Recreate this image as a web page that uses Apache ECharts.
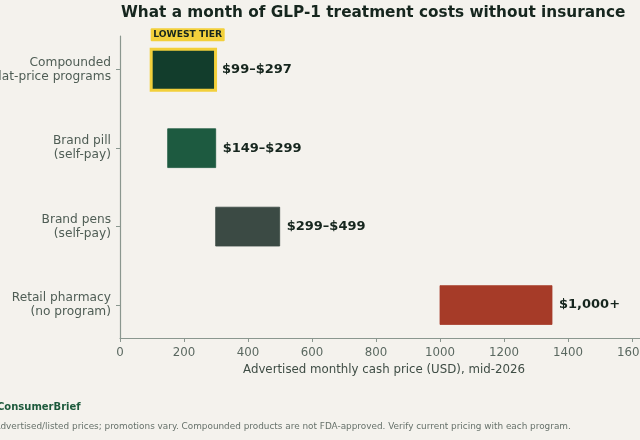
<!DOCTYPE html>
<html>
<head>
<meta charset="utf-8">
<script src="https://cdn.jsdelivr.net/npm/echarts@6/dist/echarts.min.js"></script>
<style>
html,body{margin:0;padding:0;background:#f4f2ed;}
#c{width:640px;height:440px;}
</style>
</head>
<body>
<div id="c"></div>
<script>
const categories = ["Compounded\nflat-price programs", "Brand pill\n(self-pay)", "Brand pens\n(self-pay)", "Retail pharmacy\n(no program)"];
const lowPrices = [99, 149, 299, 1000];
const highPrices = [297, 299, 499, 1350];
const valueLabels = ["$99\u2013$297", "$149\u2013$299", "$299\u2013$499", "$1,000+"];
const barColors = ["#123d2c", "#1d5a40", "#3b4a44", "#a63b28"];
const xTicks = [0, 200, 400, 600, 800, 1000, 1200, 1400, 1600];

const FONT = "'DejaVu Sans', sans-serif";
const chart = echarts.init(document.getElementById('c'), null, {renderer: 'canvas'});

const data = lowPrices.map((lo, i) => [lo, highPrices[i], i]);

chart.setOption({
  backgroundColor: '#f4f2ed',
  animation: false,
  textStyle: {fontFamily: FONT},
  title: {
    text: 'What a month of GLP-1 treatment costs without insurance',
    left: 121, top: 6, padding: 0,
    textStyle: {fontFamily: FONT, fontSize: 15.3, fontWeight: 'bold', color: '#16261e'}
  },
  grid: {left: 120, right: 0, top: 36, bottom: 102, containLabel: false, outerBoundsMode: 'none'},
  xAxis: {
    type: 'value', min: 0, max: 1625,
    name: 'Advertised monthly cash price (USD), mid-2026',
    nameLocation: 'middle', nameGap: 25,
    nameTextStyle: {fontFamily: FONT, fontSize: 11.8, color: '#3f4d45', padding: [0, 0, 0, 8]},
    axisLine: {show: true, onZero: false, lineStyle: {color: '#8a978f', width: 1.2}},
    axisTick: {show: true, length: 4, customValues: xTicks, lineStyle: {color: '#8a978f'}},
    axisLabel: {customValues: xTicks, formatter: v => String(v), fontFamily: FONT, fontSize: 11.8, color: '#5a6860', margin: 9},
    splitLine: {show: false}
  },
  yAxis: {
    type: 'value', inverse: true, min: -0.43, max: 3.42,
    axisLine: {show: true, onZero: false, lineStyle: {color: '#8a978f', width: 1.2}},
    axisTick: {show: true, length: 4, customValues: [0, 1, 2, 3], lineStyle: {color: '#8a978f'}},
    axisLabel: {
      customValues: [0, 1, 2, 3],
      formatter: v => categories[Math.round(v)],
      fontFamily: FONT, fontSize: 12.2, lineHeight: 14, color: '#4f5d55', margin: 9, align: 'right'
    },
    splitLine: {show: false}
  },
  series: [{
    type: 'custom',
    data: data,
    encode: {x: [0, 1], y: 2},
    clip: false,
    renderItem: function (params, api) {
      const lo = api.value(0), hi = api.value(1), i = api.value(2);
      const p0 = api.coord([lo, i]);
      const p1 = api.coord([hi, i]);
      const h = api.size([0, 0.495])[1];
      const children = [];
      if (i === 0) {
        children.push({
          type: 'rect',
          shape: {x: p0[0] - 0.5, y: p0[1] - h / 2 - 1, width: p1[0] - p0[0] + 1, height: h + 2},
          style: {fill: barColors[i], stroke: '#f2d03b', lineWidth: 3}
        });
        children.push({
          type: 'rect',
          shape: {x: p0[0] - 1, y: p0[1] - h / 2 - 22, width: 74, height: 13, r: 1},
          style: {fill: '#f2d03b'}
        });
        children.push({
          type: 'text',
          style: {x: p0[0] + 36, y: p0[1] - h / 2 - 15.5, text: 'LOWEST TIER', align: 'center', verticalAlign: 'middle',
            fontFamily: FONT, fontSize: 9.2, fontWeight: 'bold', fill: '#16261e'}
        });
      } else {
        children.push({
          type: 'rect',
          shape: {x: p0[0], y: p0[1] - h / 2, width: p1[0] - p0[0], height: h},
          style: {fill: barColors[i], stroke: barColors[i], lineWidth: 0.8}
        });
      }
      children.push({
        type: 'text',
        style: {x: p1[0] + 7, y: p1[1], text: valueLabels[i], align: 'left', verticalAlign: 'middle',
          fontFamily: FONT, fontSize: 13, fontWeight: 'bold', fill: '#16261e'}
      });
      return {type: 'group', children: children};
    }
  }],
  graphic: [
    {type: 'text', left: -3, top: 402, style: {text: 'ConsumerBrief', fontFamily: FONT, fontSize: 10, fontWeight: 'bold', fill: '#1d5a3c'}},
    {type: 'text', left: -5.5, top: 422, style: {text: 'Advertised/listed prices; promotions vary. Compounded products are not FDA-approved. Verify current pricing with each program.', fontFamily: FONT, fontSize: 8.9, fill: '#66716a'}}
  ]
});
</script>
</body>
</html>
